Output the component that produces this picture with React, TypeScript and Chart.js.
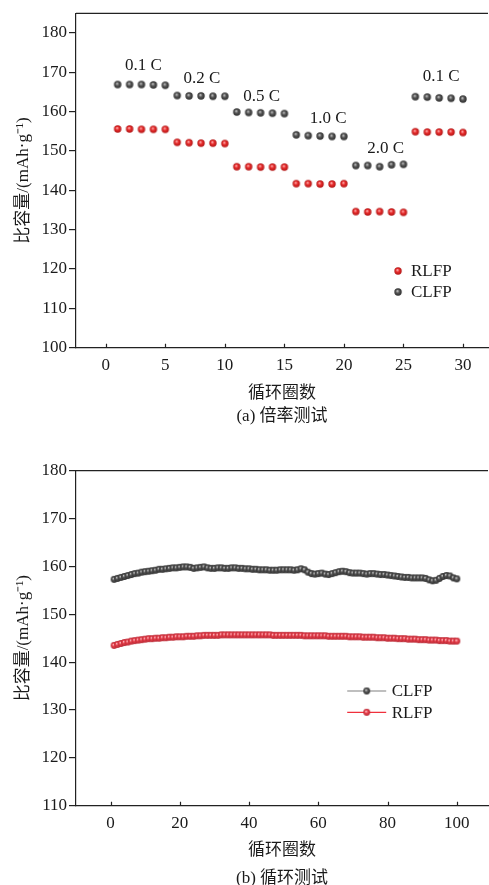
import React, { useEffect, useRef } from 'react';
import { Chart, registerables } from 'chart.js';

Chart.register(...registerables);

// ---------- (a) 倍率测试 ----------
const rateCycles = [1, 2, 3, 4, 5, 6, 7, 8, 9, 10, 11, 12, 13, 14, 15, 16, 17, 18, 19, 20, 21, 22, 23, 24, 25, 26, 27, 28, 29, 30];
const rateRLFP = [
  155.6, 155.6, 155.5, 155.5, 155.5,
  152.2, 152.1, 152.0, 152.0, 151.9,
  146.0, 146.0, 145.9, 145.9, 145.9,
  141.7, 141.7, 141.6, 141.6, 141.7,
  134.6, 134.5, 134.6, 134.5, 134.4,
  154.9, 154.8, 154.8, 154.8, 154.7,
];
const rateCLFP = [
  166.9, 166.9, 166.9, 166.8, 166.7,
  164.1, 164.0, 164.0, 163.9, 163.9,
  159.9, 159.8, 159.7, 159.6, 159.5,
  154.1, 153.9, 153.8, 153.7, 153.7,
  146.3, 146.3, 146.0, 146.5, 146.6,
  163.8, 163.7, 163.5, 163.4, 163.2,
];
const rateGroups = ['0.1 C', '0.2 C', '0.5 C', '1.0 C', '2.0 C', '0.1 C'];
const rateXTicks = [0, 5, 10, 15, 20, 25, 30];
const rateYTicks = [100, 110, 120, 130, 140, 150, 160, 170, 180];

// ---------- (b) 循环测试 ----------
const cycleNumbers = Array.from({ length: 100 }, (_, i) => i + 1);
const cycleCLFP = [
  157.3, 157.5, 157.7, 157.9, 158.1, 158.3, 158.5, 158.6, 158.8, 158.9,
  159.0, 159.1, 159.2, 159.4, 159.4, 159.5, 159.6, 159.7, 159.7, 159.8,
  159.9, 159.9, 159.8, 159.6, 159.7, 159.8, 159.9, 159.7, 159.6, 159.6,
  159.7, 159.7, 159.6, 159.6, 159.7, 159.7, 159.6, 159.6, 159.5, 159.5,
  159.4, 159.4, 159.3, 159.3, 159.3, 159.2, 159.2, 159.2, 159.3, 159.3,
  159.3, 159.3, 159.2, 159.3, 159.5, 159.3, 158.8, 158.5, 158.4, 158.5,
  158.6, 158.4, 158.3, 158.5, 158.7, 158.9, 159.0, 158.9, 158.7, 158.6,
  158.6, 158.6, 158.5, 158.4, 158.5, 158.5, 158.4, 158.3, 158.3, 158.2,
  158.1, 158.0, 157.9, 157.8, 157.7, 157.7, 157.6, 157.6, 157.6, 157.6,
  157.5, 157.2, 157.0, 157.1, 157.5, 157.9, 158.1, 158.0, 157.6, 157.4,
];
const cycleRLFP = [
  143.5, 143.7, 143.9, 144.1, 144.2, 144.4, 144.5, 144.6, 144.7, 144.8,
  144.9, 144.9, 145.0, 145.0, 145.1, 145.1, 145.2, 145.2, 145.3, 145.3,
  145.3, 145.4, 145.4, 145.4, 145.5, 145.5, 145.6, 145.6, 145.6, 145.6,
  145.6, 145.7, 145.7, 145.7, 145.7, 145.7, 145.7, 145.7, 145.7, 145.7,
  145.7, 145.7, 145.7, 145.7, 145.7, 145.7, 145.6, 145.6, 145.6, 145.6,
  145.6, 145.6, 145.6, 145.6, 145.6, 145.5, 145.5, 145.5, 145.5, 145.5,
  145.5, 145.5, 145.4, 145.4, 145.4, 145.4, 145.4, 145.4, 145.3, 145.3,
  145.3, 145.3, 145.2, 145.2, 145.2, 145.2, 145.1, 145.1, 145.1, 145.0,
  145.0, 145.0, 144.9, 144.9, 144.9, 144.8, 144.8, 144.8, 144.7, 144.7,
  144.7, 144.6, 144.6, 144.6, 144.5, 144.5, 144.5, 144.4, 144.4, 144.4,
];
const cycleXTicks = [0, 20, 40, 60, 80, 100];
const cycleYTicks = [110, 120, 130, 140, 150, 160, 170, 180];

// ---------- styles ----------
const SERIF = "'Liberation Serif', 'Times New Roman', serif";
const MIXED = "'Liberation Serif', 'Noto Sans CJK SC', serif";
const INK = '#1a1a1a';
const AXIS = '#222222';
const Y_TITLE = '比容量/(mAh·g⁻¹)';

function makeSphere(r: number, light: string, base: string, dark: string) {
  const c = document.createElement('canvas');
  const s = Math.ceil(r * 2 + 2);
  c.width = s;
  c.height = s;
  const g = c.getContext('2d') as CanvasRenderingContext2D;
  const cx = s / 2;
  const cy = s / 2;
  const grad = g.createRadialGradient(cx - r * 0.2, cy - r * 0.3, r * 0.05, cx, cy, r);
  grad.addColorStop(0, light);
  grad.addColorStop(0.45, base);
  grad.addColorStop(1, dark);
  g.fillStyle = grad;
  g.beginPath();
  g.arc(cx, cy, r, 0, Math.PI * 2);
  g.fill();
  return c;
}

const framePlugin = {
  id: 'frame',
  afterDraw(chart: any) {
    const { ctx, chartArea: a, scales } = chart;
    const x = scales.x;
    ctx.save();
    ctx.strokeStyle = AXIS;
    ctx.lineWidth = 1.2;
    ctx.beginPath();
    ctx.moveTo(a.left, a.top);
    ctx.lineTo(a.right, a.top);
    x.ticks.forEach((t: any) => {
      const px = Math.round(x.getPixelForValue(t.value)) + 0.5;
      ctx.moveTo(px, a.bottom);
      ctx.lineTo(px, a.bottom - 4);
    });
    ctx.stroke();
    ctx.restore();
  },
};

type LegendEntry = { text: string; sphere: HTMLCanvasElement; line?: string };

function legendPlugin(entries: LegendEntry[], fx: number, fy: number, gap: number, lineHalf: number, textDx: number) {
  return {
    id: 'customLegend',
    afterDraw(chart: any) {
      const { ctx, chartArea: a } = chart;
      const cx = a.left + fx * (a.right - a.left);
      const cy0 = a.top + fy * (a.bottom - a.top);
      ctx.save();
      ctx.font = `17px ${SERIF}`;
      ctx.textAlign = 'left';
      ctx.textBaseline = 'middle';
      entries.forEach((e, i) => {
        const cy = cy0 + i * gap;
        if (e.line) {
          ctx.strokeStyle = e.line;
          ctx.lineWidth = 1.2;
          ctx.beginPath();
          ctx.moveTo(cx - lineHalf, cy);
          ctx.lineTo(cx + lineHalf, cy);
          ctx.stroke();
        }
        ctx.drawImage(e.sphere, cx - e.sphere.width / 2, cy - e.sphere.height / 2);
        ctx.fillStyle = INK;
        ctx.fillText(e.text, cx + textDx, cy + 1);
      });
      ctx.restore();
    },
  };
}

const rateLabelNudge = [
  [2, -19],
  [1, -17],
  [1, -16],
  [8, -16],
  [6, -16],
  [2, -20],
];

const rateLabelPlugin = {
  id: 'rateLabels',
  afterDraw(chart: any) {
    const { ctx, scales } = chart;
    const { x, y } = scales;
    ctx.save();
    ctx.font = `17px ${SERIF}`;
    ctx.fillStyle = INK;
    ctx.textAlign = 'center';
    ctx.textBaseline = 'middle';
    rateGroups.forEach((label, g) => {
      const cyc = rateCycles.slice(g * 5, g * 5 + 5);
      const vals = rateCLFP.slice(g * 5, g * 5 + 5);
      const cx = cyc.reduce((s, v) => s + v, 0) / cyc.length;
      const top = Math.max(...vals);
      const [dx, dy] = rateLabelNudge[g];
      ctx.fillText(label, x.getPixelForValue(cx) + dx, y.getPixelForValue(top) + dy);
    });
    ctx.restore();
  },
};

function axisCommon(ticksArr: number[]) {
  return {
    afterBuildTicks: (s: any) => {
      s.ticks = ticksArr.map((v) => ({ value: v }));
    },
  };
}

function buildOptions(cfg: {
  xMin: number; xMax: number; yMin: number; yMax: number;
  xTicks: number[]; yTicks: number[];
  padTop: number; xHeight: number; caption: string; titleLH: number; titlePadBottom: number;
}) {
  return {
    responsive: false,
    animation: false,
    devicePixelRatio: 1,
    layout: { autoPadding: false, padding: { top: cfg.padTop, left: 0, right: 1, bottom: 0 } },
    plugins: { legend: { display: false }, tooltip: { enabled: false }, title: { display: false } },
    scales: {
      x: {
        type: 'linear',
        min: cfg.xMin,
        max: cfg.xMax,
        ...axisCommon(cfg.xTicks),
        afterFit: (s: any) => {
          s.height = cfg.xHeight;
        },
        grid: { display: false, drawTicks: false },
        border: { display: true, color: AXIS, width: 1.2 },
        ticks: { font: { family: SERIF, size: 17 }, color: INK, padding: 8, maxRotation: 0, autoSkip: false },
        title: {
          display: true,
          text: ['循环圈数', cfg.caption],
          font: { family: MIXED, size: 17, lineHeight: cfg.titleLH },
          color: INK,
          padding: { top: 0, bottom: cfg.titlePadBottom },
        },
      },
      y: {
        type: 'linear',
        min: cfg.yMin,
        max: cfg.yMax,
        ...axisCommon(cfg.yTicks),
        afterFit: (s: any) => {
          s.width = 76;
        },
        grid: { drawOnChartArea: false, drawTicks: true, tickLength: 7, color: AXIS, lineWidth: 1.2 },
        border: { display: true, color: AXIS, width: 1.2 },
        ticks: { font: { family: SERIF, size: 17 }, color: INK, padding: 2, autoSkip: false },
        title: {
          display: true,
          text: Y_TITLE,
          font: { family: MIXED, size: 17, lineHeight: 1.2 },
          color: INK,
          padding: { top: 13, bottom: 0 },
        },
      },
    },
  };
}

function RateChart() {
  const ref = useRef<HTMLCanvasElement>(null);
  useEffect(() => {
    const red = makeSphere(3.7, '#ffb4b4', '#e82a2a', '#b01818');
    const gray = makeSphere(3.7, '#c8c8c8', '#555555', '#2e2e2e');
    const chart = new Chart(ref.current as HTMLCanvasElement, {
      type: 'line',
      data: {
        labels: rateCycles,
        datasets: [
          { label: 'RLFP', data: rateRLFP, showLine: false, pointStyle: red as any, pointRadius: 3.7, borderColor: '#e82a2a', backgroundColor: '#e82a2a' },
          { label: 'CLFP', data: rateCLFP, showLine: false, pointStyle: gray as any, pointRadius: 3.7, borderColor: '#555', backgroundColor: '#555' },
        ],
      },
      options: buildOptions({
        xMin: -2.5, xMax: 32.1, yMin: 100, yMax: 185,
        xTicks: rateXTicks, yTicks: rateYTicks,
        padTop: 13.3, xHeight: 92.3, caption: '(a) 倍率测试', titleLH: 1.37, titlePadBottom: 11.5,
      }) as any,
      plugins: [
        framePlugin,
        rateLabelPlugin,
        legendPlugin(
          [
            { text: 'RLFP', sphere: red },
            { text: 'CLFP', sphere: gray },
          ],
          0.7816, 0.7706, 21, 0, 13,
        ),
      ],
    });
    return () => chart.destroy();
  }, []);
  return <canvas ref={ref} width={489} height={440} style={{ display: 'block' }} />;
}

function CycleChart() {
  const ref = useRef<HTMLCanvasElement>(null);
  useEffect(() => {
    const red = makeSphere(3.4, '#ffc6cc', '#e8404c', '#b82834');
    const gray = makeSphere(3.4, '#d0d0d0', '#555555', '#303030');
    const chart = new Chart(ref.current as HTMLCanvasElement, {
      type: 'line',
      data: {
        labels: cycleNumbers,
        datasets: [
          { label: 'CLFP', data: cycleCLFP, pointStyle: gray as any, pointRadius: 3.4, borderColor: '#555555', borderWidth: 1, backgroundColor: '#555' },
          { label: 'RLFP', data: cycleRLFP, pointStyle: red as any, pointRadius: 3.4, borderColor: '#e8404c', borderWidth: 1, backgroundColor: '#e8404c' },
        ],
      },
      options: buildOptions({
        xMin: -10, xMax: 109, yMin: 110, yMax: 180,
        xTicks: cycleXTicks, yTicks: cycleYTicks,
        padTop: 30.7, xHeight: 79.3, caption: '(b) 循环测试', titleLH: 1.63, titlePadBottom: -7.5,
      }) as any,
      plugins: [
        framePlugin,
        legendPlugin(
          [
            { text: 'CLFP', sphere: gray, line: '#808080' },
            { text: 'RLFP', sphere: red, line: '#f0303c' },
          ],
          0.7056, 0.6576, 21.3, 19.5, 25,
        ),
      ],
    });
    return () => chart.destroy();
  }, []);
  return <canvas ref={ref} width={489} height={445} style={{ display: 'block' }} />;
}

export default function App() {
  return (
    <div style={{ position: 'absolute', left: 0, top: 0, width: 489, height: 885, background: '#fff', overflow: 'hidden' }}>
      <RateChart />
      <CycleChart />
    </div>
  );
}
